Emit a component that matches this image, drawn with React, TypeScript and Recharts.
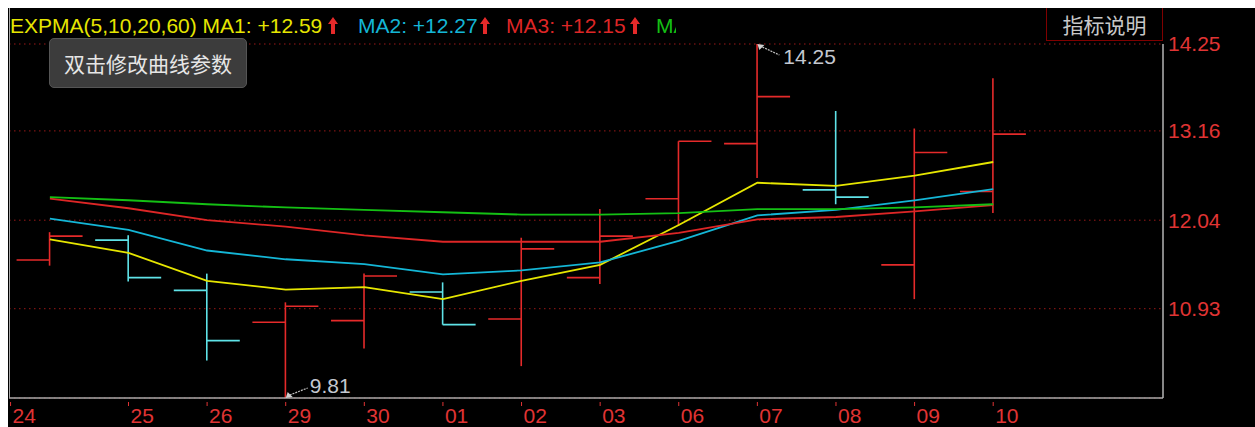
import { Bar, CartesianGrid, ComposedChart, Line, ReferenceDot, XAxis, YAxis } from "recharts";

// trading days shown on the axis
const dates = ["24", "25", "26", "29", "30", "01", "02", "03", "06", "07", "08", "09", "10"];

// OHLC
const open = [11.54, 11.79, 11.16, 10.76, 10.78, 11.14, 10.8, 11.32, 12.31, 13.0, 12.42, 11.48, 12.4];
const high = [11.89, 11.85, 11.37, 11.01, 11.37, 11.26, 11.82, 12.18, 13.03, 14.25, 13.41, 13.19, 13.82];
const low = [11.47, 11.27, 10.28, 9.81, 10.43, 10.73, 10.21, 11.24, 11.97, 12.57, 12.24, 11.05, 12.13];
const close = [11.84, 11.32, 10.53, 10.96, 11.34, 10.73, 11.68, 11.84, 13.03, 13.59, 12.33, 12.89, 13.12];

// EXPMA(5,10,20,60)
const ema5 = [11.8, 11.63, 11.28, 11.17, 11.2, 11.05, 11.28, 11.48, 11.98, 12.51, 12.47, 12.6, 12.77];
const ema10 = [12.06, 11.92, 11.66, 11.55, 11.49, 11.36, 11.41, 11.51, 11.78, 12.1, 12.17, 12.29, 12.43];
const ema20 = [12.31, 12.19, 12.04, 11.96, 11.85, 11.77, 11.77, 11.77, 11.88, 12.05, 12.08, 12.15, 12.23];
const ema60 = [12.33, 12.29, 12.24, 12.2, 12.17, 12.14, 12.11, 12.11, 12.13, 12.18, 12.18, 12.2, 12.24];

const priceTicks = [14.25, 13.16, 12.04, 10.93];
const legendNames = ["MA1", "MA2", "MA3", "MA4"];
const legendValues = ["+12.59", "+12.27", "+12.15", ""];

const UP = "#e52a2a";
const DOWN = "#5fe3e8";
const C_MA1 = "#e6e600";
const C_MA2 = "#14b6d6";
const C_MA3 = "#dd2626";
const C_MA4 = "#14c014";
const AXIS_RED = "#e03434";
const FONT = "'Liberation Sans', Arial, sans-serif";
const CJK = "'Noto Sans CJK SC', sans-serif";

const data = dates.map((d, i) => ({
  i,
  date: d,
  range: [low[i], high[i]],
  open: open[i],
  high: high[i],
  low: low[i],
  close: close[i],
  ema5: ema5[i],
  ema10: ema10[i],
  ema20: ema20[i],
  ema60: ema60[i],
}));

const hiIdx = high.indexOf(Math.max(...high));
const loIdx = low.indexOf(Math.min(...low));

function OhlcShape(props: any) {
  const { x, width, y, height, payload } = props;
  if (payload == null) return null;
  const top = Math.min(y, y + height);
  const h = Math.abs(height);
  const k = h / (payload.high - payload.low || 1);
  const cx = x + width / 2;
  const yo = top + (payload.high - payload.open) * k;
  const yc = top + (payload.high - payload.close) * k;
  const color = payload.close >= payload.open ? UP : DOWN;
  return (
    <g stroke={color} strokeWidth={1.6}>
      <line x1={cx} x2={cx} y1={top} y2={top + h} />
      <line x1={x} x2={cx} y1={yo} y2={yo} />
      <line x1={cx} x2={x + width} y1={yc} y2={yc} />
    </g>
  );
}

function DateTick(props: any) {
  const { x, y, payload } = props;
  const label = dates[Math.max(0, Math.round(payload.value))];
  return (
    <g>
      <line x1={x} x2={x} y1={y + 4} y2={y + 8} stroke={AXIS_RED} strokeWidth={1} />
      <text x={x + 2} y={y + 25} fill={AXIS_RED} fontSize={21} fontFamily={FONT}>
        {label}
      </text>
    </g>
  );
}

function HighMark(props: any) {
  const { cx, cy } = props;
  return (
    <g>
      <path d={`M${cx},${cy} l7,1 l-5,5 z`} fill="#d0d0d0" />
      <line x1={cx + 5} y1={cy + 3} x2={cx + 22} y2={cy + 11} stroke="#c0c0c0" strokeWidth={1.2} strokeDasharray="2 1" />
      <text x={cx + 26} y={cy + 20} fill="#c4c8d0" fontSize={21} fontFamily={FONT}>
        {high[hiIdx].toFixed(2)}
      </text>
    </g>
  );
}

function LowMark(props: any) {
  const { cx, cy } = props;
  return (
    <g>
      <path d={`M${cx},${cy} l7,-1 l-5,-5 z`} fill="#d0d0d0" />
      <line x1={cx + 4} y1={cy - 3} x2={cx + 22} y2={cy - 10} stroke="#c0c0c0" strokeWidth={1.2} strokeDasharray="2 1" />
      <text x={cx + 24} y={cy - 5} fill="#c4c8d0" fontSize={21} fontFamily={FONT}>
        {low[loIdx].toFixed(2)}
      </text>
    </g>
  );
}

function Arrow({ left }: { left: number }) {
  return (
    <svg style={{ position: "absolute", left, top: 9 }} width={10} height={17}>
      <polygon points="5,0 10,7 7,7 7,17 3,17 3,7 0,7" fill={UP} />
    </svg>
  );
}

export default function App() {
  const txt = { position: "absolute" as const, top: 6, fontFamily: FONT, fontSize: 21, lineHeight: "24px", whiteSpace: "nowrap" as const };
  return (
    <div style={{ position: "fixed", left: 8, top: 8, width: 1247, height: 419, background: "#000", overflow: "hidden" }}>
      <ComposedChart width={1247} height={419} data={data} margin={{ top: 36, right: 0, bottom: 0, left: 1 }}>
        <CartesianGrid vertical={false} stroke="#9a1818" strokeDasharray="1.5 3.5" />
        <XAxis
          dataKey="i"
          type="number"
          domain={[-0.52, 14.16]}
          ticks={[-0.5, 1, 2, 3, 4, 5, 6, 7, 8, 9, 10, 11, 12]}
          interval={0}
          allowDataOverflow
          height={29}
          tickSize={0}
          tickMargin={0}
          tickLine={false}
          axisLine={{ stroke: "#a8a8a8", strokeWidth: 1.5 }}
          tick={<DateTick />}
        />
        <YAxis
          orientation="right"
          width={92}
          domain={[9.81, 14.25]}
          ticks={priceTicks}
          interval={0}
          allowDataOverflow
          tickSize={0}
          tickMargin={5}
          tickLine={false}
          axisLine={{ stroke: "#b4b4b4", strokeWidth: 1.5 }}
          tickFormatter={(v: number) => v.toFixed(2)}
          tick={{ fill: AXIS_RED, fontSize: 21, fontFamily: FONT }}
        />
        <Bar dataKey="range" barSize={66} shape={<OhlcShape />} isAnimationActive={false} />
        <Line type="linear" dataKey="ema5" stroke={C_MA1} strokeWidth={1.8} dot={false} isAnimationActive={false} />
        <Line type="linear" dataKey="ema10" stroke={C_MA2} strokeWidth={1.8} dot={false} isAnimationActive={false} />
        <Line type="linear" dataKey="ema20" stroke={C_MA3} strokeWidth={1.8} dot={false} isAnimationActive={false} />
        <Line type="linear" dataKey="ema60" stroke={C_MA4} strokeWidth={1.8} dot={false} isAnimationActive={false} />
        <ReferenceDot x={hiIdx} y={high[hiIdx]} ifOverflow="visible" shape={<HighMark />} />
        <ReferenceDot x={loIdx} y={low[loIdx]} ifOverflow="visible" shape={<LowMark />} />
      </ComposedChart>

      {/* left frame line */}
      <div style={{ position: "absolute", left: 0.5, top: 0, width: 1.5, height: 390, background: "#a8a8a8" }} />

      {/* header legend */}
      <span style={{ ...txt, left: 2, color: C_MA1 }}>EXPMA(5,10,20,60) {legendNames[0]}: {legendValues[0]}</span>
      <Arrow left={320} />
      <span style={{ ...txt, left: 350, color: C_MA2 }}>{legendNames[1]}: {legendValues[1]}</span>
      <Arrow left={472} />
      <span style={{ ...txt, left: 498, color: C_MA3 }}>{legendNames[2]}: {legendValues[2]}</span>
      <Arrow left={622} />
      <div style={{ ...txt, left: 648, width: 20, overflow: "hidden", color: C_MA4 }}>{legendNames[3]}</div>

      {/* hint bubble */}
      <div
        style={{
          position: "absolute",
          left: 41,
          top: 30,
          width: 198,
          height: 50,
          boxSizing: "border-box",
          background: "#3c3c3c",
          border: "1px solid #555",
          borderRadius: 5,
          color: "#e6e6e6",
          fontFamily: CJK,
          fontSize: 21,
          display: "flex",
          alignItems: "center",
          justifyContent: "center",
        }}
      >
        双击修改曲线参数
      </div>

      {/* indicator help button */}
      <div
        style={{
          position: "absolute",
          left: 1038,
          top: 0,
          width: 117,
          height: 33,
          boxSizing: "border-box",
          borderLeft: "1.5px solid #800000",
          borderRight: "1.5px solid #800000",
          borderBottom: "1.5px solid #800000",
          color: "#c8c8c8",
          fontFamily: CJK,
          fontSize: 21,
          display: "flex",
          alignItems: "center",
          justifyContent: "center",
        }}
      >
        指标说明
      </div>
    </div>
  );
}
